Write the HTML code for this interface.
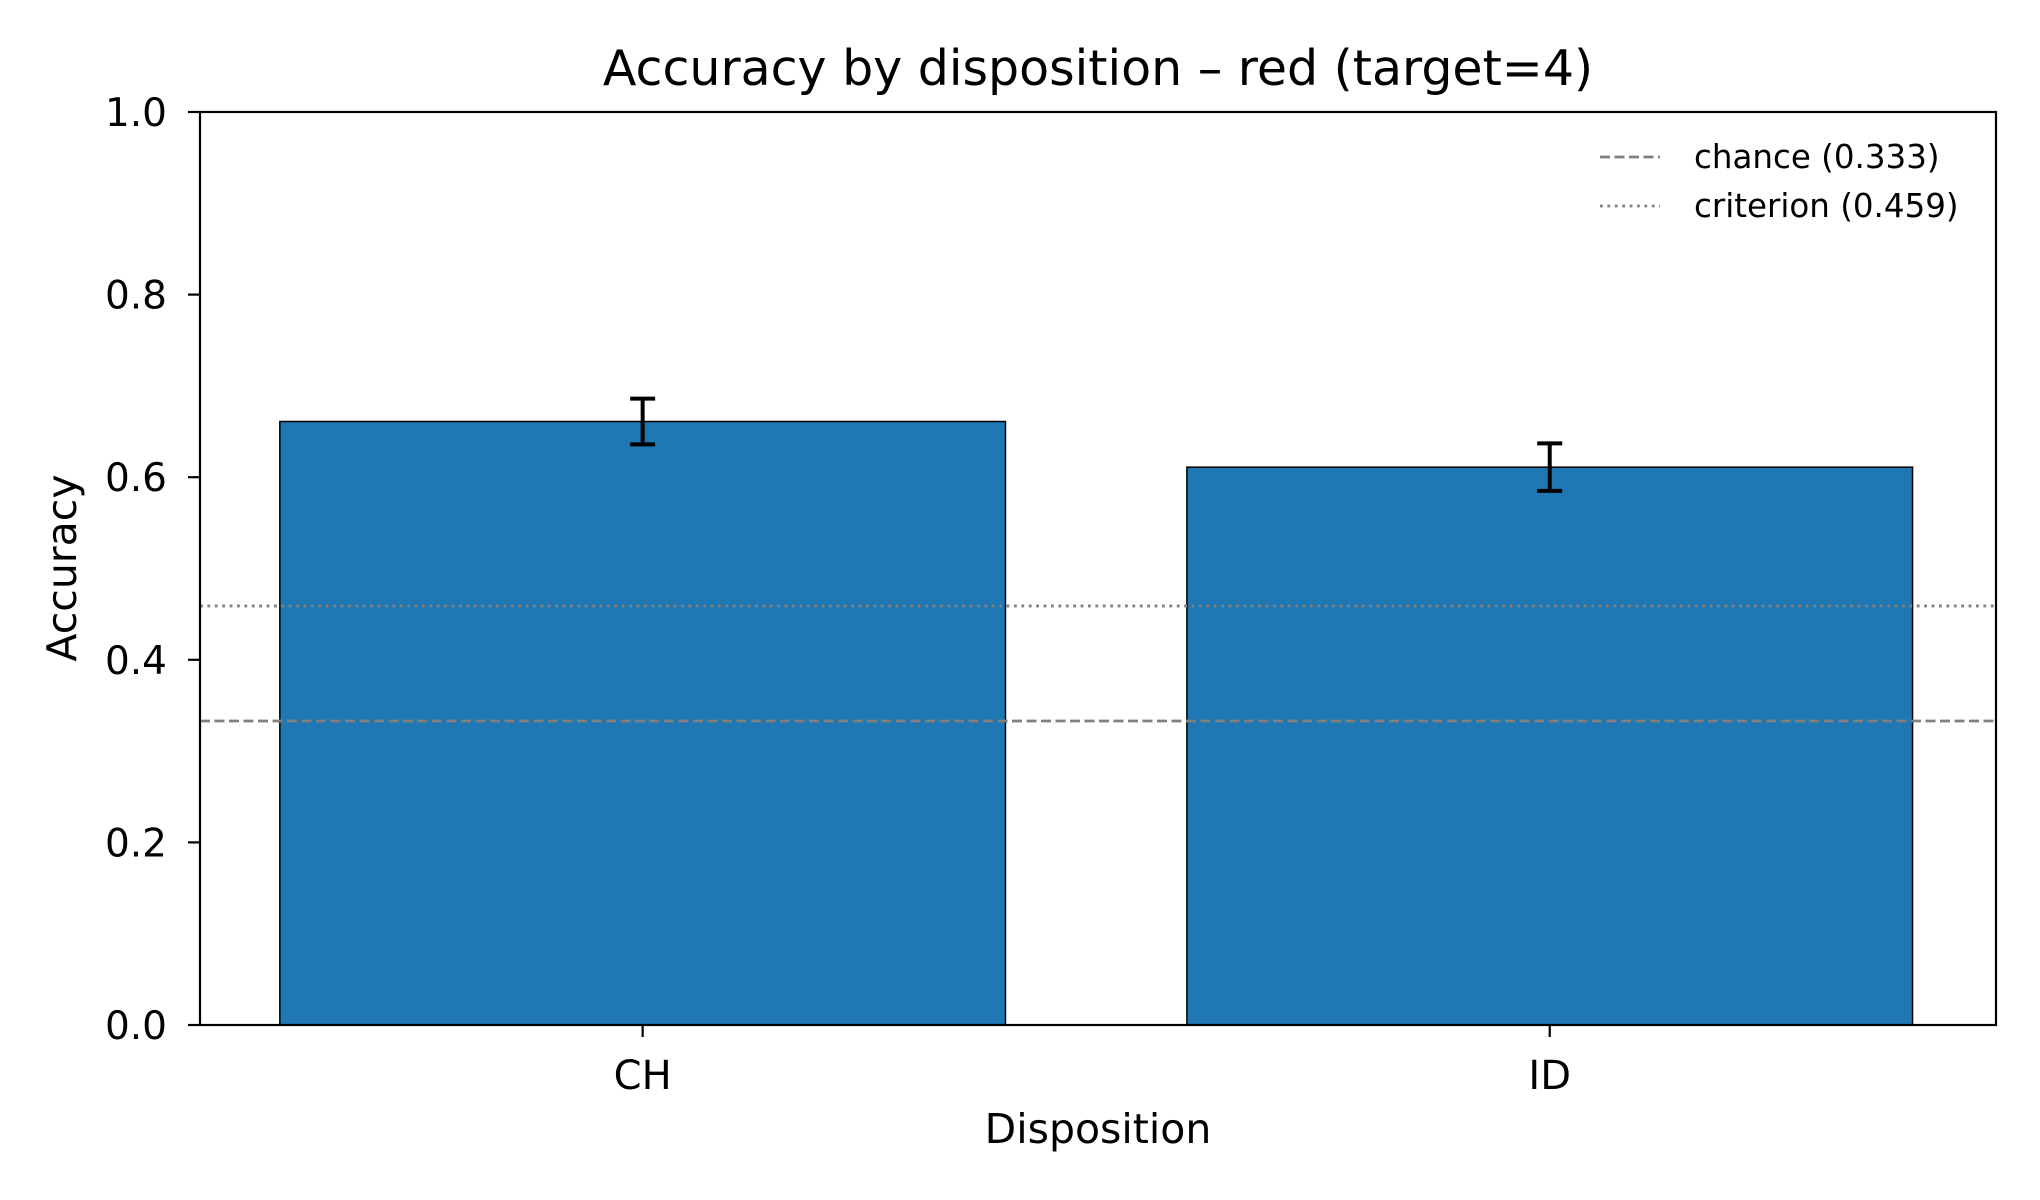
<!DOCTYPE html>
<html><head><meta charset="utf-8"><style>
html,body{margin:0;padding:0;background:#fff;}
svg{display:block;font-family:"DejaVu Sans","Liberation Sans",sans-serif;}
</style></head><body>
<svg id="chart" width="2040" height="1200" viewBox="0 0 2040 1200" xmlns="http://www.w3.org/2000/svg">
<rect width="2040" height="1200" fill="#fff"/>
<text x="1098" y="85" font-size="49" text-anchor="middle">Accuracy by disposition – red (target=4)</text>
<g id="plot"></g>
<text x="1098" y="1143" font-size="41" text-anchor="middle">Disposition</text>
<text transform="translate(76,568) rotate(-90)" font-size="41" text-anchor="middle">Accuracy</text>
</svg>
<script>
const categories = ["CH", "ID"];
const accuracy = [0.661, 0.611];
const errors = [0.025, 0.026];
const yTicks = [0.0, 0.2, 0.4, 0.6, 0.8, 1.0];
const yTickLabels = ["0.0", "0.2", "0.4", "0.6", "0.8", "1.0"];
const chanceLevel = [0.333];
const criterionLevel = [0.459];
const legendLabels = ["chance (0.333)", "criterion (0.459)"];

const L = 200, R = 1996, T = 112, B = 1025;
const xMin = -0.488, xMax = 1.492;
function xs(v){ return L + (v - xMin) / (xMax - xMin) * (R - L); }
function ys(v){ return B - v * (B - T); }
const NS = "http://www.w3.org/2000/svg";
const g = document.getElementById('plot');
function mk(tag, attrs, parent){
  const e = document.createElementNS(NS, tag);
  for (const k in attrs) e.setAttribute(k, attrs[k]);
  (parent || g).appendChild(e);
  return e;
}
const barW = 0.8;
categories.forEach((c, i) => {
  const b = mk('rect', {x: xs(i - barW/2), y: ys(accuracy[i]), width: xs(i + barW/2) - xs(i - barW/2), height: ys(0) - ys(accuracy[i]), fill: '#1f77b4', stroke: '#000', 'stroke-width': 1.5});
  
  
});
const ch = mk('line', {x1: L, x2: R, y1: ys(chanceLevel[0]), y2: ys(chanceLevel[0]), stroke: '#808080', 'stroke-width': 2.8, 'stroke-dasharray': '10 4.5'});


const cr = mk('line', {x1: L, x2: R, y1: ys(criterionLevel[0]), y2: ys(criterionLevel[0]), stroke: '#808080', 'stroke-width': 2.8, 'stroke-dasharray': '2.8 4.6'});


categories.forEach((c, i) => {
  const eg = mk('g', {});
  
  
  const x = xs(i), y1 = ys(accuracy[i] + errors[i]), y2 = ys(accuracy[i] - errors[i]);
  mk('line', {x1: x, x2: x, y1: y1, y2: y2, stroke: '#000', 'stroke-width': 4}, eg);
  mk('line', {x1: x - 12.5, x2: x + 12.5, y1: y1, y2: y1, stroke: '#000', 'stroke-width': 4}, eg);
  mk('line', {x1: x - 12.5, x2: x + 12.5, y1: y2, y2: y2, stroke: '#000', 'stroke-width': 4}, eg);
});
const fr = mk('rect', {x: L, y: T, width: R - L, height: B - T, fill: 'none', stroke: '#000', 'stroke-width': 2.2});


yTicks.forEach((v, i) => {
  const tk = mk('line', {x1: L - 12, x2: L, y1: ys(v), y2: ys(v), stroke: '#000', 'stroke-width': 2.2});
  
  
  const t = mk('text', {x: L - 33, y: ys(v) + 14, 'font-size': 39, 'text-anchor': 'end'});
  t.textContent = yTickLabels[i];
  
  
});
categories.forEach((c, i) => {
  const tk = mk('line', {x1: xs(i), x2: xs(i), y1: B, y2: B + 12, stroke: '#000', 'stroke-width': 2.2});
  
  
  const t = mk('text', {x: xs(i), y: 1089, 'font-size': 40, 'text-anchor': 'middle'});
  t.textContent = c;
  
  
});
const lg = mk('g', {});


const dashes = ['10 4.5', '2.8 4.6'];
const legY = [157, 206];
legendLabels.forEach((lab, i) => {
  const ln = mk('line', {x1: 1600, x2: 1660, y1: legY[i], y2: legY[i], stroke: '#808080', 'stroke-width': 2.8, 'stroke-dasharray': dashes[i]}, lg);
  
  
  const t = mk('text', {x: 1694, y: legY[i] + 11, 'font-size': 32.5}, lg);
  t.textContent = lab;
  
  
});
</script>
</body></html>
